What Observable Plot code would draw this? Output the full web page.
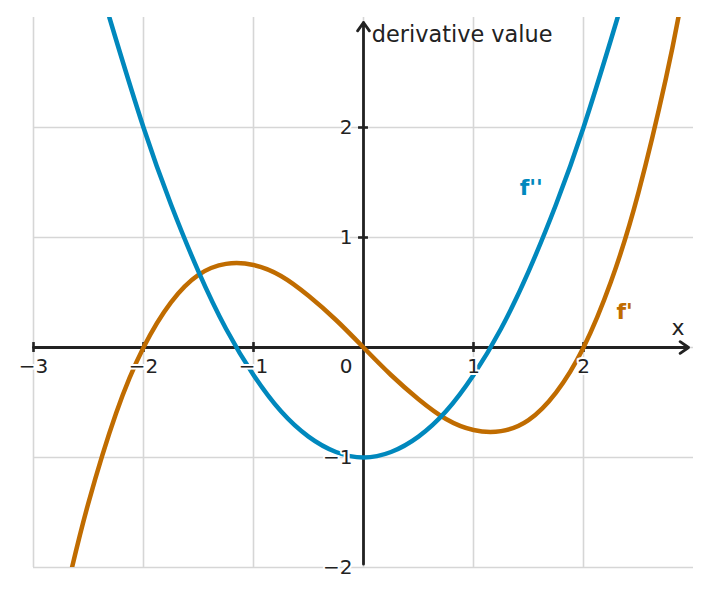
<!DOCTYPE html>
<html>
<head>
<meta charset="utf-8">
<script src="https://cdn.jsdelivr.net/npm/d3@7"></script>
<script src="https://cdn.jsdelivr.net/npm/@observablehq/plot@0.6"></script>
<style>
  html, body { margin: 0; padding: 0; background: #fff; }
</style>
</head>
<body>
<div id="chart"></div>
<script>
// ---- data ----
const xFirst = [-2.65, -2.5, -2.25, -2, -1.75, -1.5, -1.25, -1, -0.75, -0.5, -0.25, 0,
                0.25, 0.5, 0.75, 1, 1.25, 1.5, 1.75, 2, 2.25, 2.5, 2.75, 2.87];
const fPrime = [-2.00, -1.41, -0.60, 0, 0.41, 0.66, 0.76, 0.75, 0.65, 0.47, 0.25, 0,
                -0.25, -0.47, -0.65, -0.75, -0.76, -0.66, -0.41, 0, 0.60, 1.41, 2.45, 3.04];

const xSecond = [-2.31, -2.25, -2, -1.75, -1.5, -1.25, -1, -0.75, -0.5, -0.25, 0,
                 0.25, 0.5, 0.75, 1, 1.25, 1.5, 1.75, 2, 2.25, 2.31];
const fSecond = [3.00, 2.80, 2.00, 1.30, 0.69, 0.17, -0.25, -0.58, -0.81, -0.95, -1.00,
                 -0.95, -0.81, -0.58, -0.25, 0.17, 0.69, 1.30, 2.00, 2.80, 3.00];

const xDomain = [-3, 3];
const yDomain = [-2, 3];
const gridXValues = [-3, -2, -1, 0, 1, 2];
const gridYValues = [-2, -1, 0, 1, 2];
const xTickValues = [-3, -2, -1, 1, 2];
const yTickValues = [-2, -1, 1, 2];
const yTickMarks = [-1, 1, 2];

const curveNames = ["f'", "f''"];
const curveColors = ["#c06c00", "#0088bd"];
const curveLabelX = [2.30, 1.42];
const curveLabelY = [0.32, 1.45];

const xAxisLabel = "x";
const yAxisLabel = "derivative value";

// ---- tables built from the arrays ----
const firstData = xFirst.map((x, i) => ({x, y: fPrime[i]}));
const secondData = xSecond.map((x, i) => ({x, y: fSecond[i]}));
const fmt = v => (v < 0 ? "\u2212" + Math.abs(v) : String(v));
const xTicks = xTickValues.map(v => ({v, label: fmt(v)}));
const yTicks = yTickValues.map(v => ({v, label: fmt(v)}));
const curveLabels = curveNames.map((t, i) => ({t, x: curveLabelX[i], y: curveLabelY[i], c: curveColors[i]}));

const ink = "#222222";
const grid = "#d6d6d6";
const tickHalf = 0.045;

const chart = Plot.plot({
  width: 710,
  height: 595,
  marginLeft: 33,
  marginRight: 17,
  marginTop: 17,
  marginBottom: 28,
  x: {domain: xDomain, axis: null},
  y: {domain: yDomain, axis: null},
  style: {fontFamily: "DejaVu Sans", background: "white", color: ink},
  marks: [
    Plot.ruleX(gridXValues, {stroke: grid, strokeWidth: 1.6}),
    Plot.ruleY(gridYValues, {stroke: grid, strokeWidth: 1.6}),
    // axes with arrows
    Plot.arrow([0], {x1: xDomain[0], x2: xDomain[1] - 0.045, y1: 0, y2: 0,
      stroke: ink, strokeWidth: 2.8, headLength: 5.5, headAngle: 70}),
    Plot.arrow([0], {x1: 0, x2: 0, y1: yDomain[0] + 0.03, y2: yDomain[1] - 0.045,
      stroke: ink, strokeWidth: 2.8, headLength: 5.5, headAngle: 70}),
    // tick marks
    Plot.ruleX(xTickValues, {y1: -tickHalf, y2: tickHalf, stroke: ink, strokeWidth: 2.6}),
    Plot.ruleY(yTickMarks, {x1: -tickHalf, x2: tickHalf, stroke: ink, strokeWidth: 2.6}),
    // curves
    Plot.line(firstData, {x: "x", y: "y", stroke: curveColors[0], strokeWidth: 4.5,
      curve: "natural", clip: true}),
    Plot.line(secondData, {x: "x", y: "y", stroke: curveColors[1], strokeWidth: 4.5,
      curve: "natural", clip: true}),
    // tick labels with white halo
    Plot.text(xTicks, {x: "v", y: 0, dy: 19, text: "label", fontSize: 20, fill: ink,
      stroke: "white", strokeWidth: 4, paintOrder: "stroke"}),
    Plot.text(yTicks, {x: 0, y: "v", dx: -11, text: "label", textAnchor: "end", fontSize: 20,
      fill: ink, stroke: "white", strokeWidth: 4, paintOrder: "stroke"}),
    Plot.text(["0"], {x: 0, y: 0, dx: -11, dy: 19, text: d => d, textAnchor: "end", fontSize: 20,
      fill: ink, stroke: "white", strokeWidth: 4, paintOrder: "stroke"}),
    // axis labels
    Plot.text([xAxisLabel], {x: 2.86, y: 0.18, text: d => d, fontSize: 22, fill: ink,
      textAnchor: "middle"}),
    Plot.text([yAxisLabel], {x: 0.075, y: 2.84, text: d => d, fontSize: 22.4, fill: ink,
      textAnchor: "start"}),
    // curve labels
    Plot.text(curveLabels, {x: "x", y: "y", text: "t", fill: "c", fontSize: 22,
      fontWeight: "bold", textAnchor: "start"})
  ]
});
document.getElementById("chart").appendChild(chart);
</script>
</body>
</html>
